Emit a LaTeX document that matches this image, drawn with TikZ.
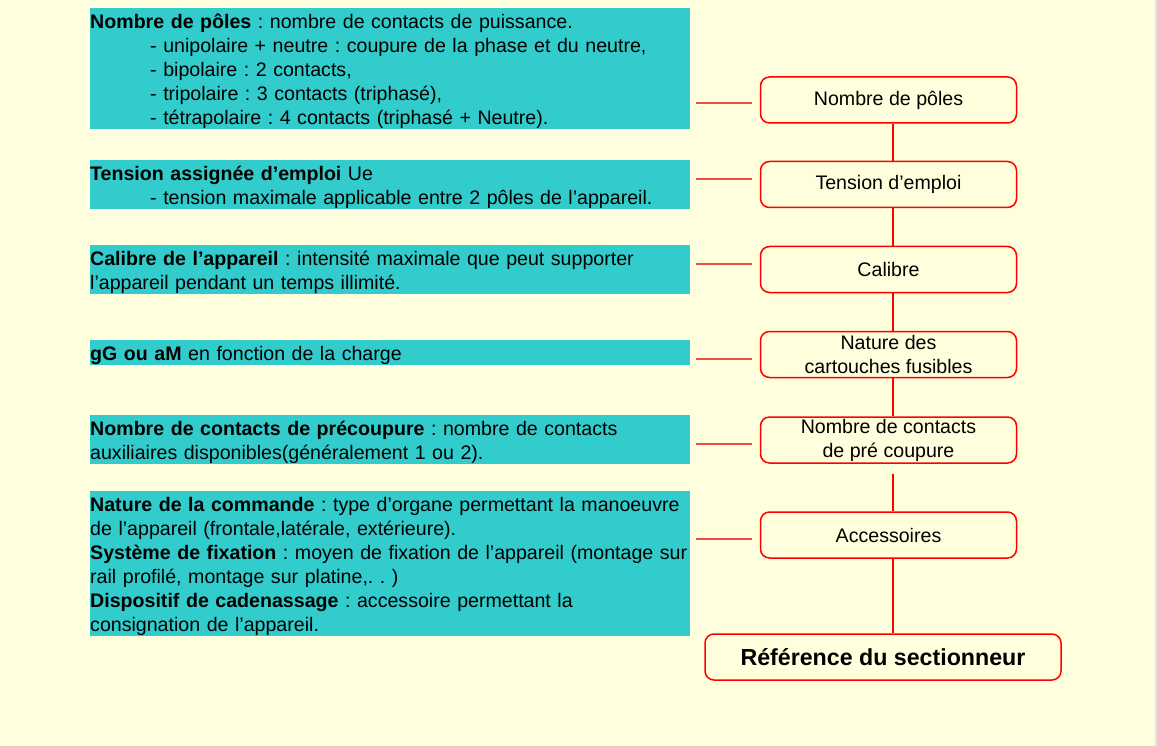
\documentclass[tikz,border=0pt]{standalone}
\usepackage{fontspec}
\setmainfont{Liberation Sans}
\usetikzlibrary{calc}
\frenchspacing
\definecolor{bgyel}{HTML}{FFFFDD}
\definecolor{cyanbox}{HTML}{33CCCC}
\definecolor{redline}{HTML}{FF0000}
\definecolor{connred}{HTML}{F24A4A}
\newcommand{\topstrut}{\rule{0pt}{20.5pt}}
\newcommand{\botstrut}{\rule[-3.5pt]{0pt}{3.5pt}}
\begin{document}
\begin{tikzpicture}[x=1pt,y=-1pt,
  info/.style={fill=cyanbox, inner sep=0pt, text width=600pt, align=left, anchor=north west,
    font=\fontsize{19.6}{24}\selectfont, execute at begin node=\topstrut, execute at end node=\botstrut},
  item/.style={draw=redline, line width=1.5pt, fill=bgyel, rounded corners=9pt,
    minimum width=256pt, minimum height=46pt, inner sep=0pt, align=center,
    font=\fontsize{19.6}{24}\selectfont},
  titlebox/.style={item, minimum width=356pt, font=\fontsize{23.2}{26}\selectfont\bfseries},
  link/.style={draw=connred, line width=1.3pt},
  vline/.style={draw=redline, line width=1.3pt}]
\useasboundingbox (0,0) rectangle (1157,746);
\fill[bgyel] (0,0) rectangle (1157,746);
\fill[gray!22] (1155,0) rectangle (1157,746);

% left information boxes
\node[info] (c1) at (90,8) {\textbf{Nombre de pôles} : nombre de contacts de puissance.\\
\hspace*{60pt}- unipolaire + neutre : coupure de la phase et du neutre,\\
\hspace*{60pt}- bipolaire : 2 contacts,\\
\hspace*{60pt}- tripolaire : 3 contacts (triphasé),\\
\hspace*{60pt}- tétrapolaire : 4 contacts (triphasé + Neutre).};
\node[info] (c2) at (90,160) {\textbf{Tension assignée d’emploi} Ue\\
\hspace*{60pt}- tension maximale applicable entre 2 pôles de l’appareil.};
\node[info] (c3) at (90,245) {\textbf{Calibre de l’appareil} : intensité maximale que peut supporter\\
l’appareil pendant un temps illimité.};
\node[info] (c4) at (90,340) {\textbf{gG ou aM} en fonction de la charge};
\node[info] (c5) at (90,415) {\textbf{Nombre de contacts de précoupure} : nombre de contacts\\
auxiliaires disponibles(généralement 1 ou 2).};
\node[info] (c6) at (90,491) {\textbf{Nature de la commande} : type d’organe permettant la manoeuvre\\
de l’appareil (frontale,latérale, extérieure).\\
\textbf{Système de fixation} : moyen de fixation de l’appareil (montage sur\\
rail profilé, montage sur platine,. . )\\
\textbf{Dispositif de cadenassage} : accessoire permettant la\\
consignation de l’appareil.};

% right boxes
\node[item] (b1) at (888.5,100) {Nombre de pôles};
\node[item] (b2) at (888.5,184.5) {Tension d’emploi};
\node[item] (b3) at (888.5,269.5) {Calibre};
\node[item] (b4) at (888.5,354.5) {Nature des\\cartouches fusibles};
\node[item] (b5) at (888.5,440) {Nombre de contacts\\de pré coupure};
\node[item] (b6) at (888.5,535) {Accessoires};
\node[titlebox] (t) at (883,657) {Référence du sectionneur};

% spine
\coordinate (sp) at (893,0);
\draw[vline] (b1.south -| sp) -- (b2.north -| sp);
\draw[vline] (b2.south -| sp) -- (b3.north -| sp);
\draw[vline] (b3.south -| sp) -- (b4.north -| sp);
\draw[vline] (b4.south -| sp) -- (b5.north -| sp);
\draw[vline] ($(b5.south -| sp)+(0,10)$) -- (b6.north -| sp);
\draw[vline] (b6.south -| sp) -- (t.north -| sp);

% horizontal links
\coordinate (h1) at (0,103);
\coordinate (h2) at (0,179);
\coordinate (h3) at (0,264);
\coordinate (h4) at (0,359);
\coordinate (h5) at (0,444);
\coordinate (h6) at (0,539);
\draw[link] ($(c1.east |- h1)+(6,0)$) -- ($(b1.west |- h1)+(-8,0)$);
\draw[link] ($(c2.east |- h2)+(6,0)$) -- ($(b2.west |- h2)+(-8,0)$);
\draw[link] ($(c3.east |- h3)+(6,0)$) -- ($(b3.west |- h3)+(-8,0)$);
\draw[link] ($(c4.east |- h4)+(6,0)$) -- ($(b4.west |- h4)+(-8,0)$);
\draw[link] ($(c5.east |- h5)+(6,0)$) -- ($(b5.west |- h5)+(-8,0)$);
\draw[link] ($(c6.east |- h6)+(6,0)$) -- ($(b6.west |- h6)+(-8,0)$);
\end{tikzpicture}
\end{document}
